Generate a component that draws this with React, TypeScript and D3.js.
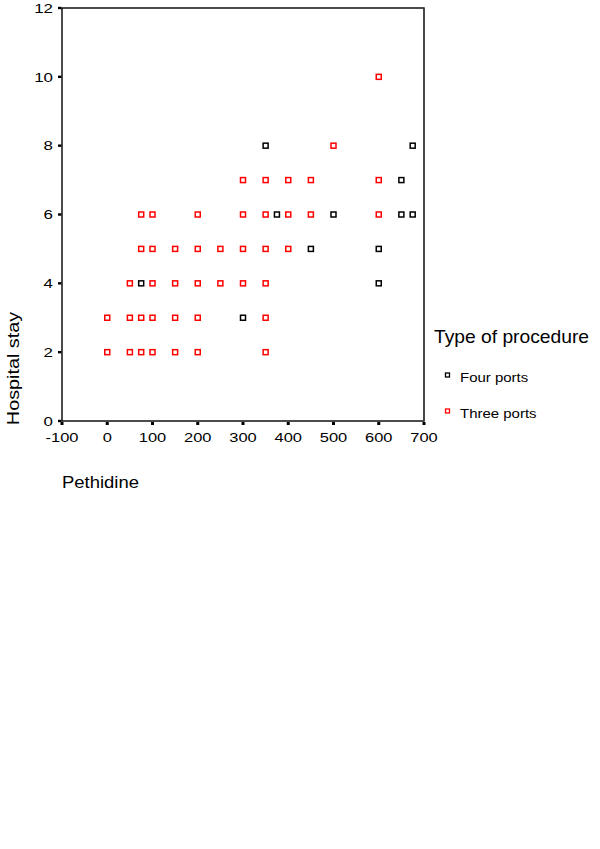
import React from "react";
import * as d3 from "d3";

const xTicks = [-100, 0, 100, 200, 300, 400, 500, 600, 700];
const yTicks = [0, 2, 4, 6, 8, 10, 12];

const seriesNames = ["Four ports", "Three ports"];
const seriesColors = ["#000000", "#ff0000"];

// Four ports (black)
const fourPethidine = [75, 300, 350, 375, 450, 500, 600, 600, 650, 650, 675, 675];
const fourStay = [4, 3, 8, 6, 5, 6, 4, 5, 6, 7, 6, 8];

// Three ports (red)
const threePethidine = [
  0, 0,
  50, 50, 50,
  75, 75, 75, 75,
  100, 100, 100, 100, 100,
  150, 150, 150, 150,
  200, 200, 200, 200, 200,
  250, 250,
  300, 300, 300, 300,
  350, 350, 350, 350, 350, 350,
  400, 400, 400,
  450, 450,
  500,
  600, 600, 600,
];
const threeStay = [
  2, 3,
  2, 3, 4,
  2, 3, 5, 6,
  2, 3, 4, 5, 6,
  2, 3, 4, 5,
  2, 3, 4, 5, 6,
  4, 5,
  4, 5, 6, 7,
  2, 3, 4, 5, 6, 7,
  5, 6, 7,
  6, 7,
  8,
  6, 7, 10,
];

const FONT = "'Liberation Sans', Arial, Helvetica, sans-serif";

function T(props: {
  x: number;
  y: number;
  size: number;
  sx?: number;
  rot?: number;
  anchor?: string;
  children: React.ReactNode;
}) {
  const { x, y, size, sx = 1.15, rot = 0, anchor = "start", children } = props;
  return (
    <text
      transform={`translate(${x},${y}) rotate(${rot}) scale(${sx},1)`}
      textAnchor={anchor}
      fontSize={size}
      fill="#000"
    >
      {children}
    </text>
  );
}

export default function App() {
  const x = d3.scaleLinear().domain([-100, 700]).range([62, 424]);
  const y = d3.scaleLinear().domain([0, 12]).range([421, 8]);

  const pts: { px: number; py: number; s: number }[] = [];
  fourPethidine.forEach((v, i) => pts.push({ px: x(v), py: y(fourStay[i]), s: 0 }));
  threePethidine.forEach((v, i) => pts.push({ px: x(v), py: y(threeStay[i]), s: 1 }));

  const [x0, x1] = x.range();
  const [y0, y1] = y.range();

  return (
    <svg
      width={600}
      height={849}
      style={{ position: "absolute", left: 0, top: 0, display: "block", background: "#fff" }}
      fontFamily={FONT}
    >
      <rect x={0} y={0} width={600} height={849} fill="#fff" />
      {/* frame */}
      <rect x={x0} y={y1} width={x1 - x0} height={y0 - y1} fill="none" stroke="#000" strokeWidth={1.4} />
      <line x1={x1} y1={y1} x2={x1} y2={y0} stroke="#444" strokeWidth={1.4} />
      {/* y ticks */}
      {yTicks.map((t) => (
        <g key={"y" + t}>
          <rect x={x0 - 4} y={y(t) - 1.2} width={3.5} height={2.4} fill="#000" />
          <T x={53} y={y(t) + 4.8} size={13.5} sx={1.25} anchor="end">
            {t}
          </T>
        </g>
      ))}
      {/* x ticks */}
      {xTicks.map((t) => (
        <g key={"x" + t}>
          <rect x={x(t) - 1.5} y={y0 + 1} width={3} height={3} fill="#000" />
          <T x={x(t)} y={y0 + 21} size={13.5} sx={1.22} anchor="middle">
            {t}
          </T>
        </g>
      ))}
      {/* points */}
      {pts.map((p, i) => (
        <rect
          key={i}
          x={p.px - 2.5}
          y={p.py - 2.5}
          width={5}
          height={5}
          fill="#fff"
          stroke={seriesColors[p.s]}
          strokeWidth={1.5}
        />
      ))}
      {/* axis titles */}
      <T x={19} y={368.5} size={16.5} sx={1.2} rot={-90} anchor="middle">
        Hospital stay
      </T>
      <T x={62} y={488} size={16.5} sx={1.12}>
        Pethidine
      </T>
      {/* legend */}
      <T x={434} y={343} size={17.5} sx={1.1}>
        Type of procedure
      </T>
      {seriesNames.map((n, i) => (
        <g key={n}>
          <rect
            x={445.5}
            y={373 + i * 36}
            width={4}
            height={4}
            fill="#fff"
            stroke={seriesColors[i]}
            strokeWidth={1.3}
          />
          <T x={460} y={382 + i * 36} size={13.5} sx={1.11}>
            {n}
          </T>
        </g>
      ))}
    </svg>
  );
}
